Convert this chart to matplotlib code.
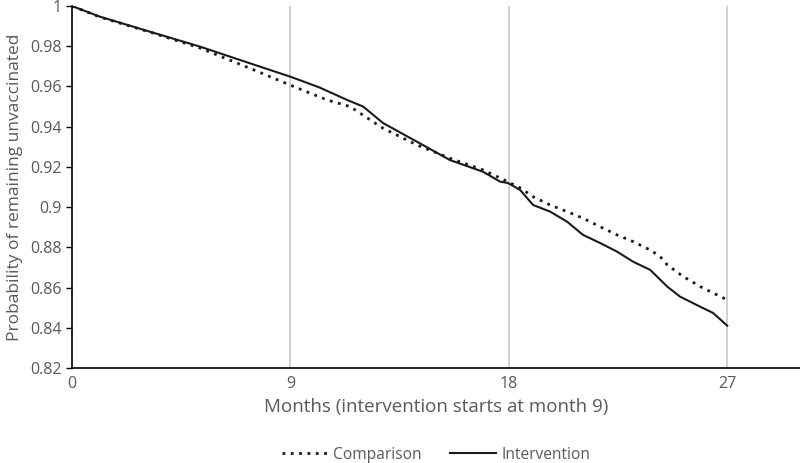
import matplotlib
matplotlib.use("Agg")
import matplotlib.pyplot as plt
from matplotlib.ticker import FuncFormatter, MultipleLocator

# values
months_int = [0, 1.15, 3.22, 5.28, 7.34, 8.99, 10.2, 11.34, 12.0, 12.82, 14.22, 15.58,
              16.94, 17.64, 17.97, 18.47, 19.0, 19.7, 20.4, 21.06, 21.76, 22.46,
              23.12, 23.83, 24.53, 25.06, 25.89, 26.42, 27.0]
intervention = [1.0, 0.9947, 0.9872, 0.9798, 0.9715, 0.9649, 0.9595, 0.9533, 0.9500, 0.9418,
                0.9325, 0.9234, 0.9176, 0.9127, 0.9120, 0.9085, 0.9011, 0.8978, 0.8928,
                0.8862, 0.8822, 0.8779, 0.8729, 0.8688, 0.8605, 0.8555, 0.8505, 0.8474, 0.8411]

months_cmp = [0, 1.15, 3.22, 5.28, 7.34, 8.99, 10.51, 11.46, 12.82, 14.22, 15.58, 16.94,
              17.64, 18.47, 19.0, 19.7, 20.4, 21.06, 21.76, 22.46, 23.12, 23.83,
              24.24, 24.53, 25.19, 25.89, 27.0]
comparison = [1.0, 0.9945, 0.9870, 0.9791, 0.9690, 0.9607, 0.9533, 0.9500, 0.9392, 0.9309,
              0.9243, 0.9185, 0.9145, 0.9096, 0.9052, 0.9011, 0.8978, 0.8945, 0.8903,
              0.8862, 0.8829, 0.8787, 0.8754, 0.8713, 0.8655, 0.8605, 0.8539]

x_ticks = [0, 9, 18, 27]
TEXT = "#595959"

plt.rcParams["font.family"] = ["Open Sans", "DejaVu Sans"]

fig = plt.figure(figsize=(8, 4.63), dpi=100)
ax = fig.add_axes([0.09, 0.205, 0.91, 0.782])

for m in x_ticks[1:]:
    ax.axvline(m, color="#c8c8c8", linewidth=1.2, zorder=0)

ax.plot(months_cmp, comparison, color="#1a1a1a", linewidth=2, linestyle=(0, (1, 2)),
        label="Comparison")
ax.plot(months_int, intervention, color="#1a1a1a", linewidth=1.5, label="Intervention")

ax.set_xlim(0, 30)
ax.set_ylim(0.82, 1.0)
ax.set_xticks(x_ticks)
ax.yaxis.set_major_locator(MultipleLocator(0.02))
ax.yaxis.set_major_formatter(FuncFormatter(lambda v, _: f"{round(v, 2):g}"))
ax.tick_params(axis="x", length=0, pad=6, labelsize=11.5, labelcolor=TEXT)
ax.tick_params(axis="y", length=4, width=1, direction="out", labelsize=11.5, labelcolor=TEXT)

for s in ["top", "right"]:
    ax.spines[s].set_visible(False)
for s in ["left", "bottom"]:
    ax.spines[s].set_color("black")
    ax.spines[s].set_linewidth(1.2)

ax.set_xlabel("Months (intervention starts at month 9)", fontsize=13.5, color=TEXT, labelpad=4)
ax.set_ylabel("Probability of remaining unvaccinated", fontsize=12.5, color=TEXT, labelpad=5)

leg = fig.legend(loc="lower center", bbox_to_anchor=(0.545, -0.03), ncol=2, frameon=False,
                 fontsize=11.2, handlelength=3.0, handletextpad=0.3, columnspacing=1.8)
for t in leg.get_texts():
    t.set_color(TEXT)

fig.savefig("out.png", dpi=100)
